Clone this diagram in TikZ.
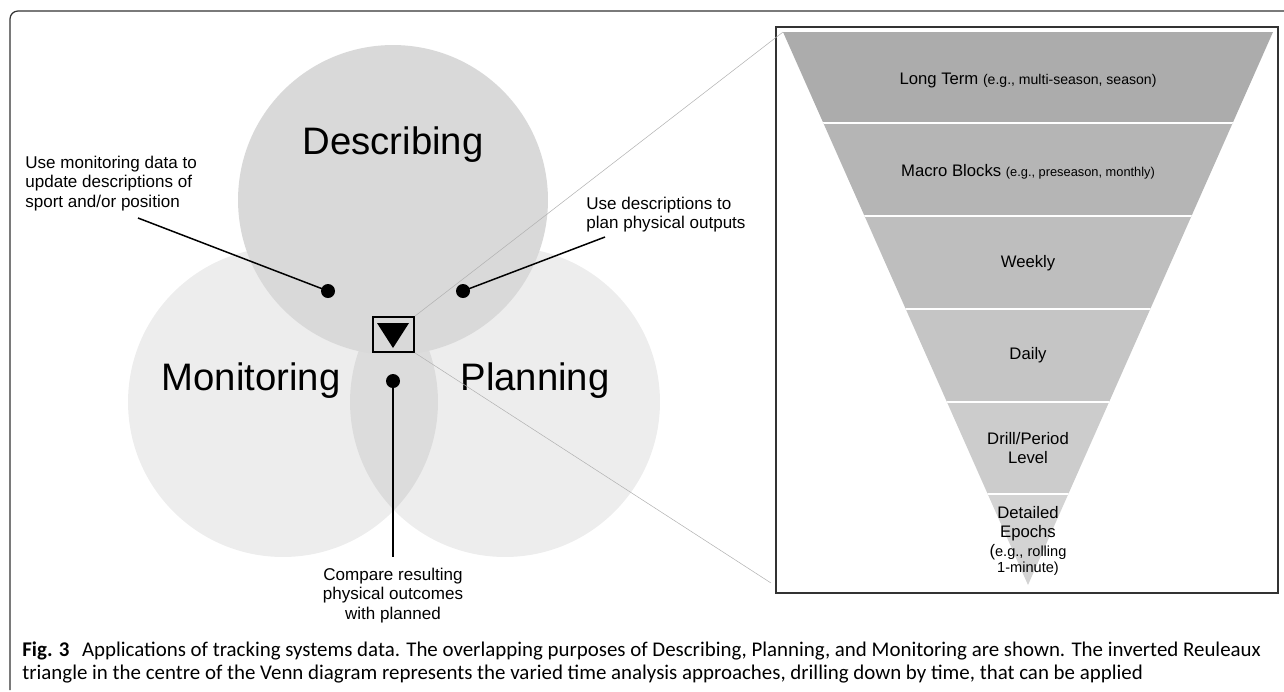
\documentclass[tikz,border=0pt]{standalone}
\usepackage{fontspec}
\setmainfont{Liberation Sans}
\newfontfamily\capfont{Carlito}
\usetikzlibrary{positioning}

\definecolor{descgray}{HTML}{D9D9D9}
\definecolor{bandA}{HTML}{ACACAC}
\definecolor{bandB}{HTML}{B5B5B5}
\definecolor{bandC}{HTML}{BEBEBE}
\definecolor{bandD}{HTML}{C5C5C5}
\definecolor{bandE}{HTML}{CCCCCC}
\definecolor{bandF}{HTML}{D3D3D3}

\newcommand{\lvlsize}{\fontsize{9.5}{11}\selectfont}
\newcommand{\egsize}{\fontsize{8}{9.5}\selectfont}

\begin{document}
\begin{tikzpicture}[
    x=0.02cm, y=-0.02cm,
    every node/.style={inner sep=0pt},
    venn/.style={circle, minimum size=6.2cm, fill=black, fill opacity=0.07},
    bigtxt/.style={font=\fontsize{21.8}{24}\selectfont},
    note/.style={font=\fontsize{9.7}{10.9}\selectfont},
    pin/.style={circle, fill=black, minimum size=0.28cm},
    lead/.style={line width=0.85pt},
    zoomline/.style={line width=0.3pt, draw=black!30},
    lvl/.style={font=\lvlsize, align=center}
]
\useasboundingbox (0,0) rectangle (1284,691);
\draw[black!80, line width=0.7pt, rounded corners=4.5pt] (10,690) -- (10,11) -- (1284,11);

% venn
\node (mon) [venn] at (283,402) {};
\node (plan) [venn] at (505,402) {};
\node (desc) [venn, fill=descgray, fill opacity=1] at (393,200) {};

\node (desclabel) [bigtxt] at (393,145) {Describing};
\node (monlabel) [bigtxt] at (251,381) {Monitoring};
\node (planlabel) [bigtxt] at (535,381) {Planning};

% pins and notes
\node (pdm) [pin] at (328,291) {};
\node (pdp) [pin] at (463,291) {};
\node (pmp) [pin] at (393,381) {};

\node (tdm) [note, align=left, anchor=north west] at (25,156) {Use monitoring data to\\update descriptions of\\sport and/or position};
\coordinate (edm) at (138,218);
\draw[lead] (pdm.center) -- (edm);

\node (tdp) [note, align=left, anchor=north west] at (586,197) {Use descriptions to\\plan physical outputs};
\coordinate (edp) at (605,237);
\draw[lead] (pdp.center) -- (edp);

\coordinate (emp) at (393,557);
\draw[lead] (pmp.center) -- (emp);
\node (tmp) [note, align=center, below=0.22cm of emp] {Compare resulting\\physical outcomes\\with planned};

% reuleaux marker
\node (tbox) [draw, line width=0.9pt, minimum width=0.82cm, minimum height=0.7cm] at (393.5,334.5) {};
\fill (377,323) -- (409,323) -- (393,348) -- cycle;

% funnel
\node (panel) [draw=black!80, line width=1pt, minimum width=10.04cm, minimum height=11.32cm] at (1027,310) {};
\coordinate (ftl) at (783,32);
\coordinate (ftr) at (1273,32);
\coordinate (ftip) at (1028,585);
\begin{scope}
\clip (ftl) -- (ftr) -- (ftip) -- cycle;
\fill[bandA] (776,32) rectangle (1278,123);
\fill[bandB] (776,123) rectangle (1278,216);
\fill[bandC] (776,216) rectangle (1278,309);
\fill[bandD] (776,309) rectangle (1278,402);
\fill[bandE] (776,402) rectangle (1278,494);
\fill[bandF] (776,494) rectangle (1278,590);
\draw[white, line width=1.2pt] (776,123) -- (1278,123);
\draw[white, line width=1.2pt] (776,216) -- (1278,216);
\draw[white, line width=1.2pt] (776,309) -- (1278,309);
\draw[white, line width=1.2pt] (776,402) -- (1278,402);
\draw[white, line width=1.2pt] (776,494) -- (1278,494);
\end{scope}

\coordinate (zbot) at (771,583);
\draw[zoomline] (tbox.north east) -- (ftl);
\draw[zoomline] (tbox.south east) -- (zbot);

\node (longterm) [lvl] at (1028,80) {Long Term {\egsize(e.g., multi-season, season)}};
\node (macro) [lvl] at (1028,172) {Macro Blocks {\fontsize{7.3}{9}\selectfont(e.g., preseason, monthly)}};
\node (weekly) [lvl] at (1028,263) {Weekly};
\node (daily) [lvl] at (1028,355) {Daily};
\node (drill) [lvl] at (1028,448) {Drill/Period\\Level};
\node (epochs) [lvl] at (1028,541) {Detailed\\Epochs\\({\fontsize{8.3}{9}\selectfont e.g., rolling}\\[-2pt]{\fontsize{8.3}{9}\selectfont 1-minute)}};

% caption
\node (caption) [anchor=north west, align=left, font=\capfont\fontsize{11.9}{13.1}\selectfont] at (22,641) {\textbf{Fig. 3}\hspace{0.6em}Applications of tracking systems data. The overlapping purposes of Describing, Planning, and Monitoring are shown. The inverted Reuleaux\\triangle in the centre of the Venn diagram represents the varied time analysis approaches, drilling down by time, that can be applied};
\end{tikzpicture}
\end{document}
